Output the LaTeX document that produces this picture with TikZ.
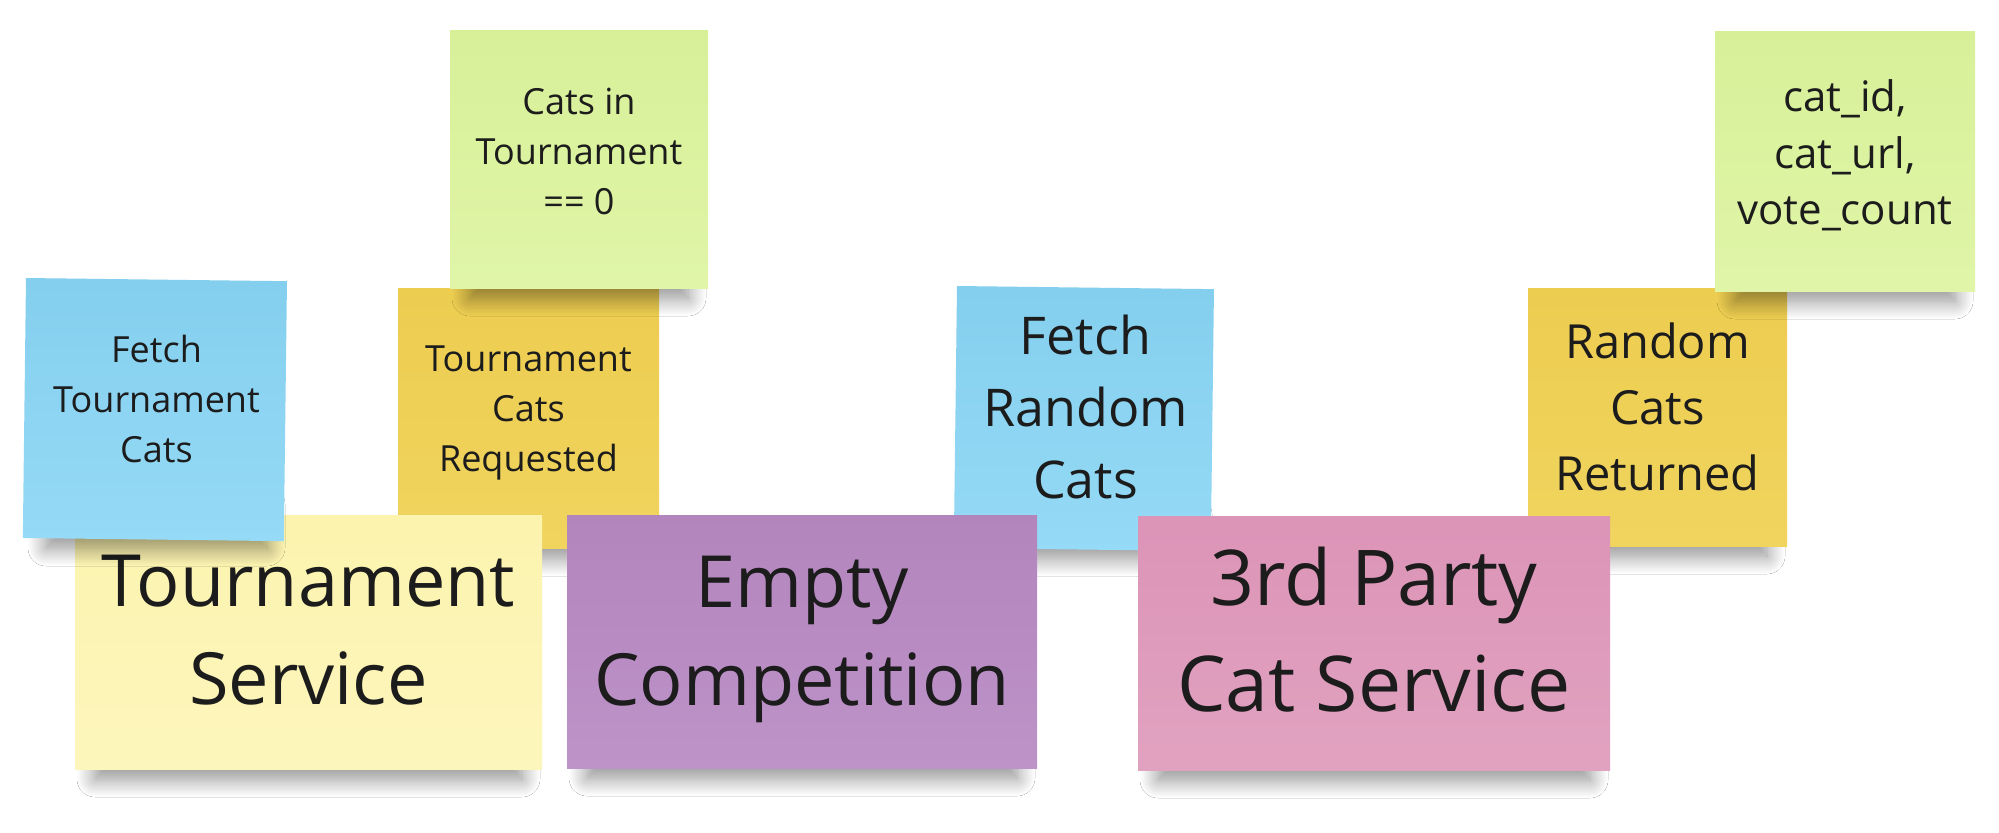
\documentclass[tikz,border=0pt]{standalone}
\usepackage{fontspec}
\setmainfont{Open Sans}
\usetikzlibrary{shadows.blur}
\definecolor{textc}{HTML}{1C1C1C}
\definecolor{blueT}{HTML}{84CFEE}\definecolor{blueB}{HTML}{95DAF6}
\definecolor{yelT}{HTML}{FCF3AE}\definecolor{yelB}{HTML}{FDF6BC}
\definecolor{orgT}{HTML}{EDCD50}\definecolor{orgB}{HTML}{F0D45E}
\definecolor{grnT}{HTML}{D7F098}\definecolor{grnB}{HTML}{E0F5A8}
\definecolor{purT}{HTML}{B385BD}\definecolor{purB}{HTML}{BD93C8}
\definecolor{pnkT}{HTML}{DC94B7}\definecolor{pnkB}{HTML}{E1A2C0}
\newcommand\fsz[2]{\fontsize{#1}{#2}\selectfont}
% shadow under a note: left x, right x, bottom y (px)
\newcommand\noteshadow[3]{%
  \path[blur shadow={shadow xshift=0pt, shadow yshift=0pt, shadow scale=1,
      shadow blur radius=9pt, shadow blur steps=16, shadow opacity=45}]
    (#1+20,#3-34) rectangle (#2-20,#3+10);}
\begin{document}
\begin{tikzpicture}[x=0.5pt,y=-0.5pt,
  sticky/.style={rectangle, inner sep=0pt, outer sep=0pt, draw=none, anchor=north west},
  sz/.style n args={2}{minimum width=#1*0.5pt, minimum height=#2*0.5pt},
  bluenote/.style={sticky, top color=blueT, bottom color=blueB},
  yelnote/.style={sticky, top color=yelT, bottom color=yelB},
  orgnote/.style={sticky, top color=orgT, bottom color=orgB},
  grnnote/.style={sticky, top color=grnT, bottom color=grnB},
  purnote/.style={sticky, top color=purT, bottom color=purB},
  pnknote/.style={sticky, top color=pnkT, bottom color=pnkB},
  lbl/.style={align=center, text=textc, inner sep=0pt},
  small/.style={lbl, font=\fsz{18}{25}},
  big/.style={lbl, font=\fsz{36}{49}},
]
\useasboundingbox[fill=white] (0,0) rectangle (1999,832);

% bottom layer
\noteshadow{398}{659}{548}
\node[orgnote, sz={261}{260}] (o1) at (398,288) {};
\node[small] (o1t) at (528.5,413) {Tournament\\Cats\\Requested};

\noteshadow{957}{1214}{548}
\node[bluenote, sz={257}{262}, rotate=-0.7] (b2) at (957,286) {};
\node[lbl, font=\fsz{26}{36}] (b2t) at (1085.5,407) {Fetch\\Random\\Cats};

\noteshadow{1528}{1787}{546}
\node[orgnote, sz={259}{258}] (o2) at (1528,288) {};
\node[lbl, font=\fsz{23.5}{33}] (o2t) at (1657.5,407) {Random\\Cats\\Returned};

% green notes
\noteshadow{450}{708}{288}
\node[grnnote, sz={258}{258}] (g1) at (450,30) {};
\node[small] (g1t) at (579,151.5) {Cats in\\Tournament\\== 0};

\noteshadow{1715}{1975}{291}
\node[grnnote, sz={260}{260}] (g2) at (1715,31) {};
\node[lbl, font=\fsz{21}{28.25}] (g2t) at (1845,155.7) {cat\_id,\\cat\_url,\\vote\_count};

% big notes
\noteshadow{75}{542}{769}
\node[yelnote, sz={467}{254}] (ts) at (75,515) {};
\node[big] (tst) at (308.5,630.3) {Tournament\\Service};

\noteshadow{567}{1037}{768}
\node[purnote, sz={470}{253}] (ec) at (567,515) {};
\node[big] (ect) at (802,639) {Empty\\Competition};

\noteshadow{1138}{1610}{770}
\node[pnknote, sz={472}{254}] (cs) at (1138,516) {};
\node[lbl, font=\fsz{38.5}{53}] (cst) at (1374,629.7) {3rd Party\\Cat Service};

% top layer
\noteshadow{26}{287}{538}
\node[bluenote, sz={261}{260}, rotate=-0.7] (b1) at (26,278) {};
\node[small] (b1t) at (156.5,399) {Fetch\\Tournament\\Cats};
\end{tikzpicture}
\end{document}
